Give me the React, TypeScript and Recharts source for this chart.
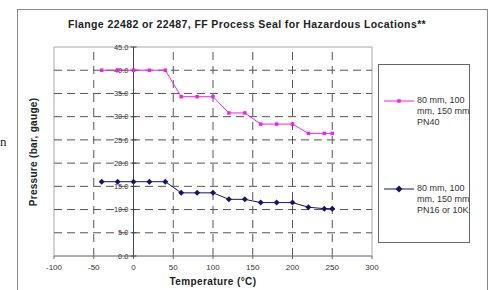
import React from 'react';
import { LineChart, Line, XAxis, YAxis, ReferenceLine, ReferenceArea, ReferenceDot } from 'recharts';

const temps = [-40, -20, 0, 20, 40, 60, 80, 100, 120, 140, 160, 180, 200, 220, 240, 250];
const pn40 = [40, 40, 40, 40, 40, 34.3, 34.3, 34.3, 30.8, 30.8, 28.4, 28.4, 28.4, 26.4, 26.4, 26.4];
const pn16 = [16, 16, 16, 16, 16, 13.6, 13.6, 13.6, 12.2, 12.2, 11.5, 11.5, 11.5, 10.5, 10.2, 10.2];

const xTicks = [-100, -50, 0, 50, 100, 150, 200, 250, 300];
const yTicks = [0, 5, 10, 15, 20, 25, 30, 35, 40, 45];
const xGrid = [-50, 50, 100, 150, 200, 250];

const title = 'Flange 22482 or 22487, FF Process Seal for Hazardous Locations**';
const legendPN40 = ['80 mm, 100', 'mm, 150 mm', 'PN40'];
const legendPN16 = ['80 mm, 100', 'mm, 150 mm', 'PN16 or 10K'];

const PINK = '#ee22ee';
const NAVY = '#14146e';
const FONT = '"Liberation Sans", Arial, sans-serif';

const data = temps.map((t, i) => ({ t, pn40: pn40[i], pn16: pn16[i] }));

const squareDot = (p: any) => (
  <rect key={p.key} x={p.cx - 1.75} y={p.cy - 1.75} width={3.5} height={3.5} fill={PINK} />
);
const diamondDot = (p: any) => (
  <path key={p.key} d={`M${p.cx},${p.cy - 3}L${p.cx + 3},${p.cy}L${p.cx},${p.cy + 3}L${p.cx - 3},${p.cy}Z`} fill={NAVY} />
);

// value axis crosses at 0 °C, so its ticks + labels sit on that line
const yTickShape = (v: number) => (p: any) => (
  <g>
    <line x1={p.cx - 3} x2={p.cx + 3} y1={p.cy} y2={p.cy} stroke="#444" />
    <text x={p.cx - 5} y={p.cy} dy="0.35em" textAnchor="end" fontSize={7.5} fill="#333" fontFamily={FONT}>
      {v.toFixed(1)}
    </text>
  </g>
);

function LegendRow({ color, lines, diamond, top }: { color: string; lines: string[]; diamond?: boolean; top: number }) {
  return (
    <div style={{ position: 'absolute', left: 4, top }}>
      <svg width={32} height={10} style={{ position: 'absolute', left: 0, top: 0 }}>
        <line x1={1} x2={31} y1={5} y2={5} stroke={color} strokeWidth={1} />
        {diamond
          ? <path d="M16,1.5L19.5,5L16,8.5L12.5,5Z" fill={color} />
          : <rect x={14.25} y={3.25} width={3.5} height={3.5} fill={color} />}
      </svg>
      <div style={{ position: 'absolute', left: 34, top: -1, fontSize: 9, lineHeight: '11px', color: '#333', whiteSpace: 'nowrap' }}>
        {lines.map(l => <div key={l}>{l}</div>)}
      </div>
    </div>
  );
}

export default function App() {
  return (
    <div style={{ position: 'absolute', left: 0, top: 0, width: 494, height: 290, background: '#fff', fontFamily: FONT, overflow: 'hidden' }}>
      <div style={{ position: 'absolute', left: 0, top: 134, fontFamily: 'serif', fontSize: 13, color: '#222' }}>n</div>
      <div style={{ position: 'absolute', left: 17, top: 9, width: 469, height: 300, border: '1.5px solid #8a8a8a' }} />

      <div style={{ position: 'absolute', left: 0, top: 18, width: 494, textAlign: 'center', fontSize: 10.5, letterSpacing: 0.4, fontWeight: 'bold', color: '#222' }}>
        {title}
      </div>

      <div style={{ position: 'absolute', left: 0, top: 0 }}>
        <LineChart width={494} height={290} data={data} margin={{ top: 47, right: 122, bottom: 4, left: 54 }}>
          <XAxis
            dataKey="t" type="number" domain={[-100, 300]} ticks={xTicks} interval={0}
            height={30} axisLine={{ stroke: '#888' }} tickLine={{ stroke: '#666' }} tickSize={3} tickMargin={5}
            tick={{ fontSize: 8, fill: '#333', fontFamily: FONT }}
            label={{ value: 'Temperature (°C)', position: 'insideBottom', offset: 0, fontSize: 10, letterSpacing: 0.4, fontWeight: 'bold', fill: '#222', dy: -1 }}
          />
          <YAxis hide type="number" domain={[0, 45]} ticks={yTicks} />

          <ReferenceArea x1={-100} x2={300} y1={0} y2={45} fill="#fff" fillOpacity={0} stroke="#a8a8a8" strokeWidth={1} />
          {yTicks.slice(1, -1).map(v => (
            <ReferenceLine key={'h' + v} y={v} stroke="#555" strokeDasharray="8 5" />
          ))}
          {xGrid.map(v => (
            <ReferenceLine key={'v' + v} x={v} stroke="#555" strokeDasharray="8 6" />
          ))}
          <ReferenceLine x={0} stroke="#444" strokeWidth={1} />
          {yTicks.map(v => (
            <ReferenceDot key={'yt' + v} x={0} y={v} r={0} shape={yTickShape(v)} />
          ))}

          <Line type="linear" dataKey="pn40" stroke={PINK} strokeWidth={1} dot={squareDot} isAnimationActive={false} />
          <Line type="linear" dataKey="pn16" stroke={NAVY} strokeWidth={1} dot={diamondDot} isAnimationActive={false} />
        </LineChart>
      </div>

      <div style={{ position: 'absolute', left: 33, top: 152, transform: 'translate(-50%, -50%) rotate(-90deg)', fontSize: 10, letterSpacing: 0.3, fontWeight: 'bold', color: '#222', whiteSpace: 'nowrap' }}>
        Pressure (bar, gauge)
      </div>

      <div style={{ position: 'absolute', left: 378, top: 64, width: 92, height: 179, border: '1px solid #666', boxSizing: 'border-box' }}>
        <LegendRow color={PINK} lines={legendPN40} top={31} />
        <LegendRow color={NAVY} lines={legendPN16} diamond top={119} />
      </div>
    </div>
  );
}
